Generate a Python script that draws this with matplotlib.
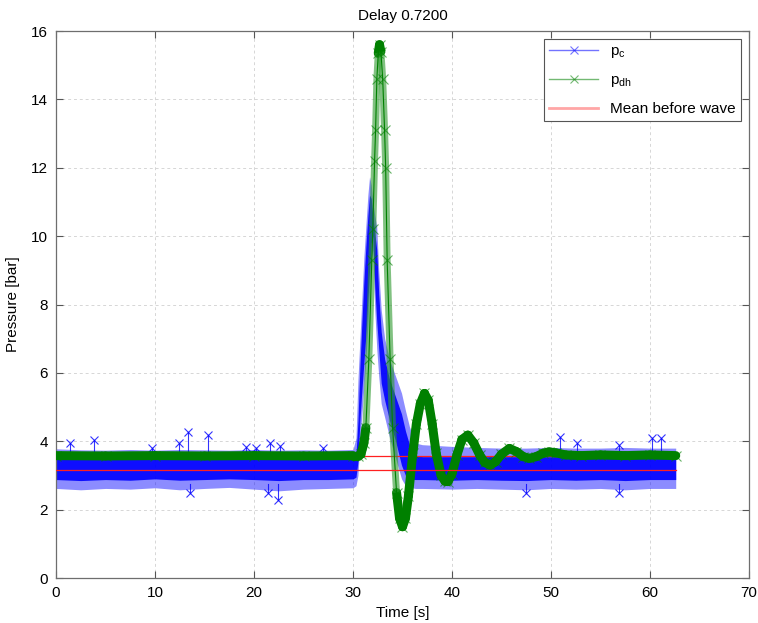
import numpy as np
import matplotlib
matplotlib.use("Agg")
import matplotlib.pyplot as plt
from matplotlib.lines import Line2D
from matplotlib.collections import LineCollection

plt.rcParams['font.family'] = ['Liberation Sans', 'DejaVu Sans']

# p_c: noisy sensor, stored as band envelopes (outer fuzz and dense core)
t_pc = [0, 2.5, 5, 7.5, 10, 12.5, 15, 17.5, 20, 22.5, 25, 27.5,
        30.0, 30.3, 30.5, 30.7, 30.9, 31.1, 31.3, 31.5, 31.67, 31.84, 32.0, 32.2,
        32.4, 32.6, 32.85, 33.2, 33.7, 34.3, 34.9, 35.3, 35.7, 36.3, 37.0,
        40, 42.5, 45, 47.5, 50, 52.5, 55, 57.5, 60, 62.6]
pc_outer_lo = [2.62, 2.58, 2.62, 2.60, 2.64, 2.58, 2.62, 2.65, 2.60, 2.55, 2.60, 2.62,
               2.64, 2.70, 3.00, 4.00, 4.80, 5.60, 6.38, 7.40, 8.40, 9.30, 9.60, 7.84,
               6.70, 5.90, 5.10, 4.70, 4.10, 3.50, 2.90, 2.70, 2.65, 2.62, 2.62,
               2.60, 2.62, 2.60, 2.58, 2.62, 2.60, 2.62, 2.58, 2.62, 2.62]
pc_outer_hi = [3.78, 3.75, 3.74, 3.76, 3.74, 3.76, 3.75, 3.74, 3.76, 3.74, 3.75, 3.74,
               3.76, 4.10, 5.80, 7.00, 8.20, 9.40, 10.3, 11.2, 11.74, 11.5, 11.0, 10.6,
               10.27, 9.00, 7.84, 7.00, 6.38, 5.90, 5.41, 4.90, 4.43, 3.95, 3.90,
               3.85, 3.82, 3.80, 3.80, 3.82, 3.80, 3.80, 3.82, 3.80, 3.80]
pc_core_lo = [2.88, 2.85, 2.88, 2.86, 2.90, 2.86, 2.88, 2.90, 2.88, 2.85, 2.88, 2.88,
              2.90, 2.95, 3.40, 4.60, 5.50, 6.30, 7.10, 8.10, 9.00, 9.80, 10.0, 8.50,
              7.50, 6.70, 5.70, 5.20, 4.60, 4.00, 3.30, 3.00, 2.90, 2.88, 2.88,
              2.86, 2.88, 2.86, 2.85, 2.88, 2.86, 2.88, 2.85, 2.88, 2.88]
pc_core_hi = [3.50, 3.50, 3.50, 3.50, 3.50, 3.50, 3.50, 3.50, 3.50, 3.50, 3.50, 3.50,
              3.50, 3.60, 4.60, 6.20, 7.50, 8.70, 9.70, 10.6, 11.2, 11.1, 10.6, 10.1,
              9.60, 8.30, 7.20, 6.40, 5.80, 5.30, 4.80, 4.30, 3.90, 3.60, 3.55,
              3.55, 3.55, 3.55, 3.55, 3.55, 3.55, 3.55, 3.55, 3.55, 3.55]

# isolated outliers of p_c
spike_t = [1.39, 3.88, 9.66, 12.44, 13.34, 15.33, 19.21, 20.21, 21.6, 22.6, 26.98,
           50.87, 52.66, 56.84, 60.23, 61.13,
           13.54, 21.4, 22.4, 47.49, 56.84]
spike_v = [3.95, 4.03, 3.80, 3.95, 4.27, 4.18, 3.82, 3.80, 3.95, 3.85, 3.80,
           4.12, 3.95, 3.90, 4.10, 4.10,
           2.48, 2.48, 2.28, 2.50, 2.48]

# p_dh: smooth pressure wave
t_dh = [0, 5, 10, 15, 20, 25, 30, 30.5, 30.8, 31.1, 31.3, 31.6, 31.9, 32.0,
        32.18, 32.28, 32.41, 32.55, 32.68, 32.82, 33.0, 33.19, 33.3, 33.45,
        33.75, 34.0, 34.4, 34.7, 35.0, 35.3, 35.6, 36.04, 36.4, 36.8, 37.22,
        37.6, 38.0, 38.4, 38.9, 39.3, 39.6, 40.0, 40.5, 41.0, 41.6, 42.2,
        42.8, 43.3, 43.85, 44.4, 45.0, 45.8, 46.5, 47.2, 47.8, 48.5, 49.2,
        49.8, 50.5, 51.5, 53, 55, 57.5, 60, 62.6]
p_dh = [3.58, 3.57, 3.58, 3.57, 3.58, 3.57, 3.58, 3.58, 3.62, 3.95, 4.40, 6.40, 9.30, 10.2,
        12.2, 13.1, 14.6, 15.35, 15.6, 15.4, 14.6, 13.1, 12.0, 9.30,
        6.40, 4.40, 2.50, 1.75, 1.50, 1.75, 2.40, 3.65, 4.50, 5.10, 5.40,
        5.20, 4.50, 3.65, 3.00, 2.83, 2.82, 3.05, 3.60, 4.05, 4.18, 3.95,
        3.60, 3.38, 3.30, 3.40, 3.62, 3.79, 3.70, 3.55, 3.50, 3.55, 3.65,
        3.69, 3.66, 3.60, 3.58, 3.60, 3.58, 3.60, 3.58]

mean_pc = 3.16
mean_dh = 3.57
t_end = 62.6

fig = plt.figure(figsize=(7.58, 6.23), dpi=100)
ax = fig.add_axes([0.0739, 0.0722, 0.9142, 0.878])

blue = '#0000ff'
green = '#008000'

ax.set_xlim(0, 70)
ax.set_ylim(0, 16)

ax.fill_between(t_pc, pc_outer_lo, pc_outer_hi, color=blue, alpha=0.45, lw=0, zorder=2)
ax.fill_between(t_pc, pc_core_lo, pc_core_hi, color=blue, alpha=0.9, lw=0, zorder=2)
for st, sv in zip(spike_t, spike_v):
    base = 3.6 if sv > 3.5 else 2.75
    ax.plot([st, st], [base, sv], '-', color=blue, lw=0.8, alpha=0.8, zorder=2)
    ax.plot(st, sv, 'x', color=blue, ms=6, mew=0.8, alpha=0.8, zorder=2)

# dense markers merge into a solid stroke where the wave moves slowly;
# where it moves fast they spread out into a thin see-through chain
xy = np.column_stack([t_dh, p_dh])
pts = ax.transData.transform(xy)
d = np.diff(pts, axis=0)
speed = np.hypot(d[:, 0], d[:, 1]) / np.diff(t_dh)   # pixels per second
fast = speed > 150
segs = np.stack([xy[:-1], xy[1:]], axis=1)
ax.add_collection(LineCollection(segs[~fast], colors=green, linewidths=6.5,
                                 capstyle='round', zorder=3))
ax.add_collection(LineCollection(segs[fast], colors=[(0.18, 0.6, 0.18, 0.6)],
                                 linewidths=5, capstyle='butt', zorder=3))
ax.plot(t_dh, p_dh, '-', color=green, lw=0.8, zorder=3)
ax.plot(t_dh, p_dh, 'x', color=green, ms=7, mew=0.8, alpha=0.6, zorder=3)

ax.plot([0, t_end], [mean_pc, mean_pc], color='#ff2020', lw=0.9, zorder=4)
ax.plot([0, t_end], [mean_dh, mean_dh], color='#ff2020', lw=0.9, zorder=2.5)

ax.set_xticks(np.arange(0, 71, 10))
ax.set_yticks(np.arange(0, 17, 2))
ax.tick_params(direction='in', top=True, right=True, labelsize=11, length=5,
               color='#555555', pad=6)
for s in ax.spines.values():
    s.set_color('#6e6e6e')
    s.set_linewidth(0.9)
ax.grid(True, color='#d6d6d6', linestyle=(0, (3, 3)), lw=0.7)
ax.set_axisbelow(True)

ax.set_title('Delay 0.7200', fontsize=11, pad=8)
ax.set_xlabel('Time [s]', fontsize=11, labelpad=4)
ax.set_ylabel('Pressure [bar]', fontsize=11, labelpad=8)

handles = [
    Line2D([], [], color=blue, alpha=0.55, lw=1, marker='x', ms=6, mew=0.8),
    Line2D([], [], color=green, alpha=0.55, lw=1, marker='x', ms=6, mew=0.8),
    Line2D([], [], color='#ff0000', alpha=0.35, lw=2),
]
leg = ax.legend(handles, ['p$_{\\mathregular{c}}$', 'p$_{\\mathregular{dh}}$', 'Mean before wave'],
                loc='upper right', fontsize=11, fancybox=False, framealpha=1,
                edgecolor='#555555', borderpad=0.35, labelspacing=0.85,
                handlelength=3.2, borderaxespad=0.5)
leg.get_frame().set_linewidth(0.8)

fig.savefig('out.png', dpi=100)
